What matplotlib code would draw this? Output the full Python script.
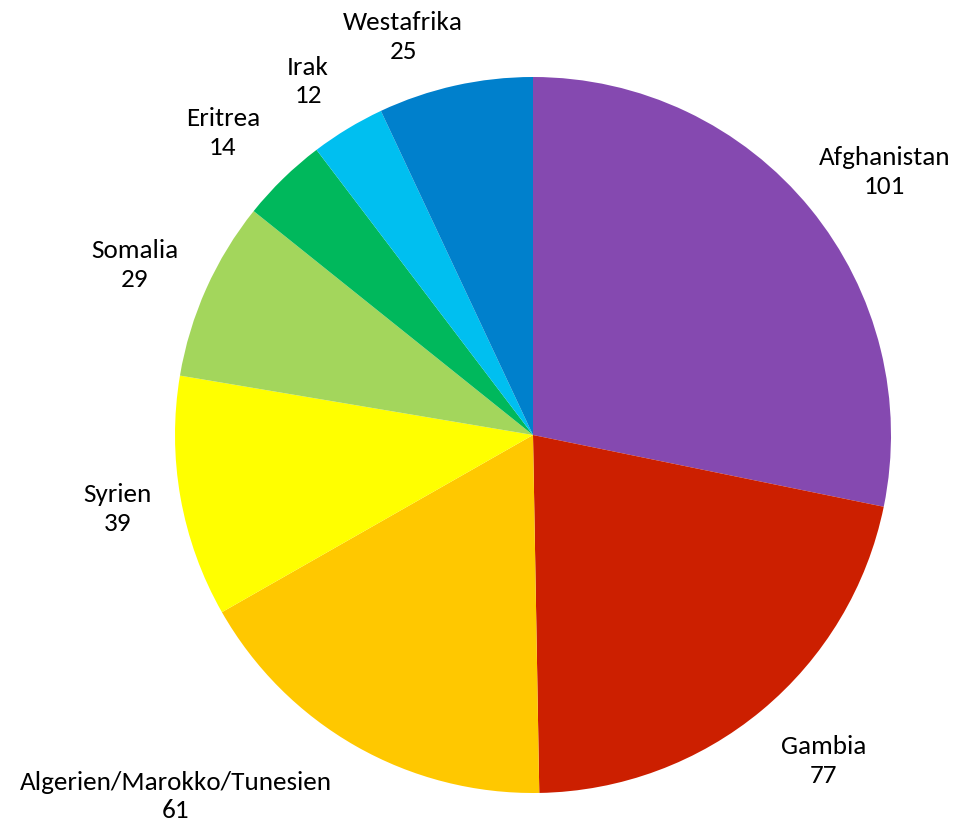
import numpy as np
import matplotlib
matplotlib.use("Agg")
import matplotlib.pyplot as plt

categories = ["Afghanistan", "Gambia", "Algerien/Marokko/Tunesien", "Syrien",
              "Somalia", "Eritrea", "Irak", "Westafrika"]
values = [101, 77, 61, 39, 29, 14, 12, 25]
colors = ["#8549B0", "#CC1F00", "#FFC800", "#FFFF00",
          "#A3D65C", "#00B85C", "#00BFF0", "#0080CC"]

# label placement (radius multiplier, angle offset in degrees)
label_r = [1.227, 1.22, 1.42, 1.18, 1.21, 1.21, 1.17, 1.17]
label_dang = [-2.4, 2, -15, 0, 1, 1.5, 1.3, 5.5]

W, H = 973, 826
fig = plt.figure(figsize=(W / 100, H / 100), dpi=100)
ax = fig.add_axes([0, 0, 1, 1])
cx, cy, R = 533, 826 - 435, 358

wedges, _ = ax.pie(values, colors=colors, startangle=90, counterclock=False,
                   radius=1.0, wedgeprops=dict(linewidth=0))
ax.set_aspect("auto")
ax.set_xlim(-cx / R, (W - cx) / R)
ax.set_ylim(-cy / R, (H - cy) / R)
ax.axis("off")

for w, name, v, rr, da in zip(wedges, categories, values, label_r, label_dang):
    ang = np.deg2rad((w.theta1 + w.theta2) / 2 + da)
    x, y = rr * np.cos(ang), rr * np.sin(ang)
    ax.text(x, y, f"{name}\n{v}", ha="center", va="center", fontsize=19.5,
            family=["Carlito", "Lato", "DejaVu Sans"], color="#000000",
            linespacing=1.3)

fig.savefig("out.png", dpi=100, facecolor="white")
